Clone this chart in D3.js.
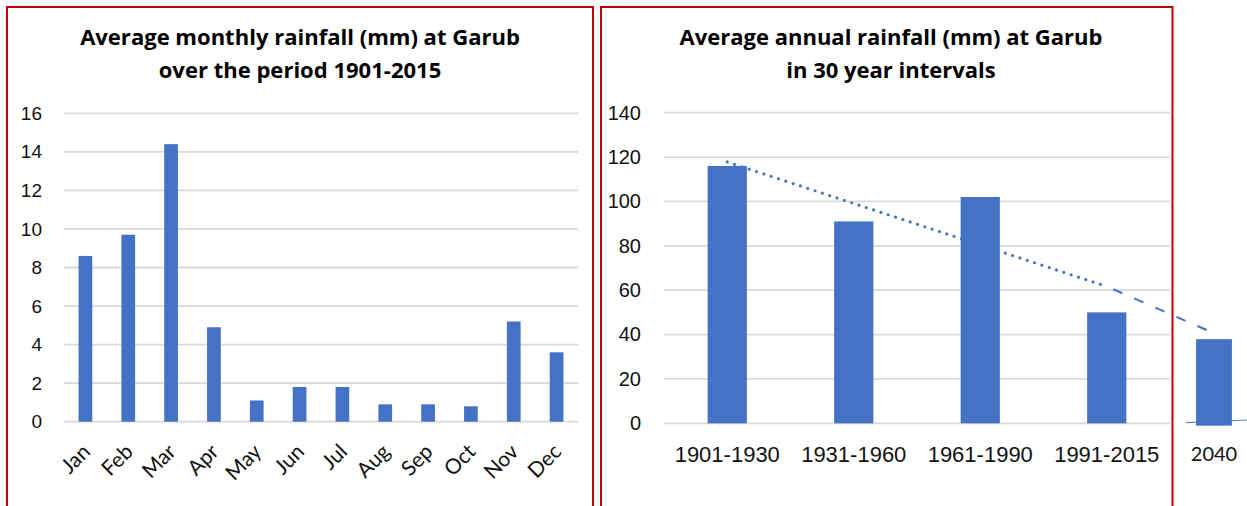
<!DOCTYPE html>
<html>
<head>
<meta charset="utf-8">
<script src="https://cdn.jsdelivr.net/npm/d3@7"></script>
<style>
  body { margin: 0; background: #fff; }
  svg { display: block; font-family: Lato, "Noto Sans", sans-serif; }
  .tick text { fill: #111; }
</style>
</head>
<body>
<svg id="chart" width="1247" height="506"></svg>
<script>
// monthly chart
const months = ['Jan', 'Feb', 'Mar', 'Apr', 'May', 'Jun', 'Jul', 'Aug', 'Sep', 'Oct', 'Nov', 'Dec'];
const monthlyRain = [8.6, 9.7, 14.4, 4.9, 1.1, 1.8, 1.8, 0.9, 0.9, 0.8, 5.2, 3.6];
const monthlyTicks = [0, 2, 4, 6, 8, 10, 12, 14, 16];

// 30 year chart
const periods = ['1901-1930', '1931-1960', '1961-1990', '1991-2015'];
const periodRain = [116, 91, 102, 50];
const annualTicks = [0, 20, 40, 60, 80, 100, 120, 140];

// pasted-on 2040 projection
const forecastLabel = ['2040'];
const forecastRain = [39];
const forecastTrendEnd = 42;

const BLUE = '#4472C4';
const GRID = '#d9d9d9';
const RED = '#c00000';

const svg = d3.select('#chart');

function gridLines(g, y, ticks, x0, x1) {
  g.selectAll('line.grid')
    .data(ticks)
    .enter().append('line')
    .attr('class', 'grid')
    .attr('x1', x0).attr('x2', x1)
    .attr('y1', d => y(d)).attr('y2', d => y(d))
    .attr('stroke', GRID)
    .attr('stroke-width', 1.8);
}

// two line bold title, font size fitted so the first line is as wide as in the original
function title(lines, cx, y0, width) {
  const t = svg.append('text')
    .attr('text-anchor', 'middle')
    .attr('font-family', '"Open Sans", Lato, sans-serif')
    .attr('font-weight', 'bold')
    .attr('font-size', '22px')
    .attr('fill', '#000');
  const spans = t.selectAll('tspan')
    .data(lines)
    .enter().append('tspan')
    .attr('x', cx)
    .attr('y', (d, i) => y0 + i * 33)
    .text(d => d);
  const w = spans.node().getComputedTextLength();
  if (w > 0) t.attr('font-size', (22 * width / w).toFixed(2) + 'px');
}

// ---------- left: monthly ----------
const xL = d3.scaleBand().domain(months).range([64, 578]).paddingInner(0.68).paddingOuter(0.34);
const yL = d3.scaleLinear().domain([0, 16]).range([421.7, 113.3]);

const left = svg.append('g');
gridLines(left, yL, monthlyTicks, 64, 578);

left.selectAll('rect.bar')
  .data(monthlyRain)
  .enter().append('rect')
  .attr('class', 'bar')
  .attr('x', (d, i) => xL(months[i]))
  .attr('y', d => yL(d))
  .attr('width', xL.bandwidth())
  .attr('height', d => yL(0) - yL(d))
  .attr('fill', BLUE);

const yAxisL = left.append('g')
  .attr('transform', 'translate(64,0)')
  .call(d3.axisLeft(yL).tickValues(monthlyTicks).tickSize(0).tickPadding(22));
yAxisL.select('.domain').remove();
yAxisL.selectAll('text').attr('font-size', '19px');

left.selectAll('text.month')
  .data(months)
  .enter().append('text')
  .attr('class', 'month')
  .attr('text-anchor', 'end')
  .attr('font-size', '21px')
  .attr('fill', '#111')
  .attr('transform', d => `translate(${xL(d) + xL.bandwidth() / 2 + 6},453) rotate(-45)`)
  .text(d => d);

title(['Average monthly rainfall (mm) at Garub', 'over the period 1901-2015'], 300, 45, 440);

// ---------- right: 30 year intervals ----------
const xR = d3.scaleBand().domain(periods).range([664, 1170]).paddingInner(0.69).paddingOuter(0.345);
const yR = d3.scaleLinear().domain([0, 140]).range([423.3, 112.7]);

const right = svg.append('g');
gridLines(right, yR, annualTicks, 664, 1170);

// linear trend through the four periods
const n = periodRain.length;
const mx = d3.mean(periodRain, (d, i) => i);
const my = d3.mean(periodRain);
const slope = d3.sum(periodRain, (d, i) => (i - mx) * (d - my)) / d3.sum(periodRain, (d, i) => (i - mx) * (i - mx));
const trend = periods.map((p, i) => ({ x: xR(p) + xR.bandwidth() / 2, v: my + slope * (i - mx) }));

right.append('path')
  .datum([trend[0], trend[n - 1]])
  .attr('d', d3.line().x(d => d.x).y(d => yR(d.v)))
  .attr('fill', 'none')
  .attr('stroke', BLUE)
  .attr('stroke-width', 3.2)
  .attr('stroke-linecap', 'round')
  .attr('stroke-dasharray', '0 7.7');

right.selectAll('rect.bar')
  .data(periodRain)
  .enter().append('rect')
  .attr('class', 'bar')
  .attr('x', (d, i) => xR(periods[i]))
  .attr('y', d => yR(d))
  .attr('width', xR.bandwidth())
  .attr('height', d => yR(0) - yR(d))
  .attr('fill', BLUE);

const yAxisR = right.append('g')
  .attr('transform', 'translate(664,0)')
  .call(d3.axisLeft(yR).tickValues(annualTicks).tickSize(0).tickPadding(23));
yAxisR.select('.domain').remove();
yAxisR.selectAll('text').attr('font-size', '20px');

const xAxisR = right.append('g')
  .attr('transform', `translate(0,${yR(0)})`)
  .call(d3.axisBottom(xR).tickSize(0).tickPadding(23));
xAxisR.select('.domain').remove();
xAxisR.selectAll('text').attr('font-size', '22px');

title(['Average annual rainfall (mm) at Garub', 'in 30 year intervals'], 891, 45, 423);

// ---------- 2040 inset ----------
const xF = d3.scaleBand().domain(forecastLabel).range([1186, 1242]).paddingInner(0.36).paddingOuter(0.18);
const yF = d3.scaleLinear().domain([0, 140]).range([425.7, 115.1]);

const inset = svg.append('g');
const endX = xF(forecastLabel[0]) + xF.bandwidth() * 0.3;
inset.append('path')
  .datum([{ x: trend[n - 1].x, v: trend[n - 1].v }, { x: endX, v: forecastTrendEnd }])
  .attr('d', d3.line().x(d => d.x).y(d => yR(d.v)))
  .attr('fill', 'none')
  .attr('stroke', BLUE)
  .attr('stroke-width', 2)
  .attr('stroke-dasharray', '0 7 10 6');

inset.append('line')
  .attr('x1', 1186).attr('y1', yF(0) - 3)
  .attr('x2', 1247).attr('y2', yF(0) - 5.7)
  .attr('stroke', '#5b84cf')
  .attr('stroke-width', 1.2);

inset.selectAll('rect.bar')
  .data(forecastRain)
  .enter().append('rect')
  .attr('class', 'bar')
  .attr('x', (d, i) => xF(forecastLabel[i]))
  .attr('y', d => yF(d))
  .attr('width', xF.bandwidth())
  .attr('height', d => yF(0) - yF(d))
  .attr('fill', BLUE);

inset.append('text')
  .attr('x', xF(forecastLabel[0]) + xF.bandwidth() / 2)
  .attr('y', 461)
  .attr('text-anchor', 'middle')
  .attr('font-size', '20px')
  .attr('fill', '#111')
  .text(forecastLabel[0]);

// ---------- panel borders ----------
svg.append('path')
  .attr('d', 'M7,520 V7 H593 V520')
  .attr('fill', 'none').attr('stroke', RED).attr('stroke-width', 2);
svg.append('path')
  .attr('d', 'M601,520 V7 H1172.5 V520')
  .attr('fill', 'none').attr('stroke', RED).attr('stroke-width', 2);
</script>
</body>
</html>
